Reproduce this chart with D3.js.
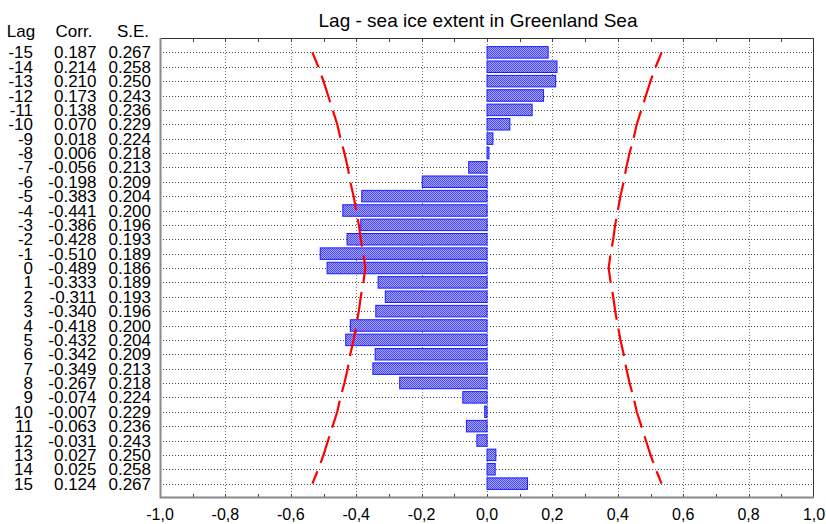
<!DOCTYPE html>
<html>
<head>
<meta charset="utf-8">
<script src="https://cdn.jsdelivr.net/npm/d3@7"></script>
<style>
  body { margin: 0; background: #fff; }
  text { font-family: Arial, "Liberation Sans", sans-serif; fill: #000; }
</style>
</head>
<body>
<div id="chart"></div>
<script>
let lags = [-15,-14,-13,-12,-11,-10,-9,-8,-7,-6,-5,-4,-3,-2,-1,0,1,2,3,4,5,6,7,8,9,10,11,12,13,14,15];
let corr = [0.187,0.214,0.210,0.173,0.138,0.070,0.018,0.006,-0.056,-0.198,-0.383,-0.441,-0.386,-0.428,-0.510,-0.489,
            -0.333,-0.311,-0.340,-0.418,-0.432,-0.342,-0.349,-0.267,-0.074,-0.007,-0.063,-0.031,0.027,0.025,0.124];
let se = [0.267,0.258,0.250,0.243,0.236,0.229,0.224,0.218,0.213,0.209,0.204,0.200,0.196,0.193,0.189,0.186,
          0.189,0.193,0.196,0.200,0.204,0.209,0.213,0.218,0.224,0.229,0.236,0.243,0.250,0.258,0.267];
let xTicks = [-1.0,-0.8,-0.6,-0.4,-0.2,0.0,0.2,0.4,0.6,0.8,1.0];
let headers = ["Lag", "Corr.", "S.E."];
let title = "Lag - sea ice extent in Greenland Sea";

let W = 826, H = 524;
let margin = {top: 38, right: 12, bottom: 26, left: 160};
let width = W - margin.left - margin.right;
let height = H - margin.top - margin.bottom;

let svg = d3.select('#chart')
    .append('svg')
    .attr('width', W)
    .attr('height', H);

// checker fill like the original bars
let defs = svg.append('defs');
let pat = defs.append('pattern')
    .attr('id', 'hatch')
    .attr('width', 2).attr('height', 2)
    .attr('patternUnits', 'userSpaceOnUse');
pat.append('rect').attr('width', 2).attr('height', 2).attr('fill', '#a8a8ff');
pat.append('rect').attr('width', 1).attr('height', 1).attr('fill', '#4646ff');
pat.append('rect').attr('x', 1).attr('y', 1).attr('width', 1).attr('height', 1).attr('fill', '#4646ff');

let g = svg.append('g')
    .attr('transform', 'translate(' + margin.left + ',' + margin.top + ')');

let x = d3.scaleLinear().domain([-1, 1]).range([0, width]);
let y = d3.scaleLinear().domain([-16, 16]).range([0, height]);
let barH = 11.5;

svg.append('text')
    .attr('x', 478)
    .attr('y', 27)
    .attr('text-anchor', 'middle')
    .style('font-size', '19px')
    .text(title);

// vertical grid
g.selectAll('.vgrid')
    .data(xTicks.filter(function (d) { return Math.abs(d) < 1; }))
    .enter()
    .append('line')
    .attr('x1', function (d) { return Math.round(x(d)) + 0.5; })
    .attr('x2', function (d) { return Math.round(x(d)) + 0.5; })
    .attr('y1', 0)
    .attr('y2', height)
    .attr('stroke', '#777')
    .attr('stroke-dasharray', '1,2');

// horizontal grid, one per lag
g.selectAll('.hgrid')
    .data(lags)
    .enter()
    .append('line')
    .attr('x1', 0)
    .attr('x2', width)
    .attr('y1', function (d) { return Math.round(y(d)) + 0.5; })
    .attr('y2', function (d) { return Math.round(y(d)) + 0.5; })
    .attr('stroke', '#444')
    .attr('stroke-dasharray', '1,2');

// minor ticks top & bottom
let minor = d3.range(-9, 10).map(function (d) { return d / 10; });
g.selectAll('.tickTop')
    .data(minor)
    .enter()
    .append('line')
    .attr('x1', function (d) { return Math.round(x(d)) + 0.5; })
    .attr('x2', function (d) { return Math.round(x(d)) + 0.5; })
    .attr('y1', 0).attr('y2', 4)
    .attr('stroke', '#444');
g.selectAll('.tickBot')
    .data(minor)
    .enter()
    .append('line')
    .attr('x1', function (d) { return Math.round(x(d)) + 0.5; })
    .attr('x2', function (d) { return Math.round(x(d)) + 0.5; })
    .attr('y1', height - 4).attr('y2', height)
    .attr('stroke', '#444');

// bars
g.selectAll('.bar')
    .data(lags)
    .enter()
    .append('rect')
    .attr('x', function (d, i) { return x(Math.min(0, corr[i])); })
    .attr('y', function (d) { return y(d) - barH / 2; })
    .attr('width', function (d, i) { return Math.abs(x(corr[i]) - x(0)); })
    .attr('height', barH)
    .attr('fill', 'url(#hatch)')
    .attr('stroke', '#1a1aff')
    .attr('stroke-width', 1);

// +/- 2 S.E. limits
let line = d3.line()
    .x(function (d) { return x(d[0]); })
    .y(function (d) { return y(d[1]); });

[-2, 2].forEach(function (k) {
    g.append('path')
        .datum(lags.map(function (d, i) { return [k * se[i], d]; }))
        .attr('d', line)
        .attr('fill', 'none')
        .attr('stroke', '#ff0000')
        .attr('stroke-width', 2.2)
        .attr('stroke-dasharray', '28,9')
        .attr('stroke-dashoffset', 12);
});

// frame
g.append('rect')
    .attr('x', 0.5).attr('y', 0.5)
    .attr('width', width - 1).attr('height', height - 1)
    .attr('fill', 'none')
    .attr('stroke', '#333');
g.append('path')
    .attr('d', 'M0.5,0 V' + (height - 0.5) + ' H' + width)
    .attr('fill', 'none')
    .attr('stroke', '#888')
    .attr('stroke-width', 2);

// x tick labels
g.selectAll('.xlab')
    .data(xTicks)
    .enter()
    .append('text')
    .attr('x', function (d) { return x(d); })
    .attr('y', height + 22)
    .attr('text-anchor', 'middle')
    .style('font-size', '16px')
    .text(function (d) { return d3.format('.1f')(d).replace('−', '-').replace('.', ','); });

// table on the left
let cols = [33, 96.5, 151];
let headX = [21, 74, 133];
svg.selectAll('.head')
    .data(headers)
    .enter()
    .append('text')
    .attr('x', function (d, i) { return headX[i]; })
    .attr('y', 37)
    .attr('text-anchor', 'middle')
    .style('font-size', '17px')
    .text(function (d) { return d; });

let rows = svg.selectAll('.row')
    .data(lags)
    .enter()
    .append('g')
    .attr('transform', function (d) { return 'translate(0,' + (margin.top + y(d) + 6) + ')'; });

rows.append('text')
    .attr('x', cols[0]).attr('text-anchor', 'end')
    .style('font-size', '17px')
    .text(function (d) { return d; });
rows.append('text')
    .attr('x', cols[1]).attr('text-anchor', 'end')
    .style('font-size', '17px')
    .text(function (d, i) { return corr[i].toFixed(3); });
rows.append('text')
    .attr('x', cols[2]).attr('text-anchor', 'end')
    .style('font-size', '17px')
    .text(function (d, i) { return se[i].toFixed(3); });
</script>
</body>
</html>
